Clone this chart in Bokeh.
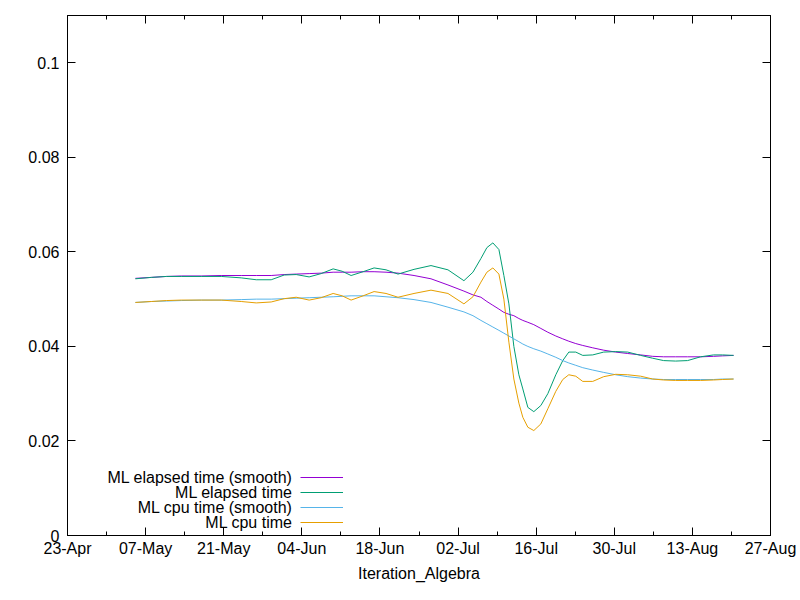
from bokeh.plotting import figure
from bokeh.models import (Range1d, FixedTicker, LinearAxis, Legend, LegendItem, Label)
from bokeh.embed import file_html
from bokeh.resources import INLINE

# ---- data (x = days after 23-Apr) ----
day_offset = [12.17, 15.03, 17.72, 20.40, 23.98, 27.56, 31.14, 33.83, 36.51, 38.84,
              40.99, 43.31, 45.46, 47.61, 49.22, 50.83, 52.98, 54.95, 57.09, 59.24,
              62.11, 65.15, 68.19, 71.05, 72.67, 74.10, 75.17, 76.24, 77.32, 78.21,
              79.11, 80.00, 80.90, 81.61, 82.51, 83.58, 84.84, 86.09, 87.52, 88.77,
              89.85, 91.10, 92.35, 94.14, 96.11, 98.26, 100.41, 102.73, 104.88, 106.85,
              109.00, 111.14, 113.47, 115.80, 117.41, 119.38]

elapsed_smooth = [0.0544, 0.0546, 0.0548, 0.0549, 0.0549, 0.0550, 0.0550, 0.0550, 0.0550, 0.0552,
                  0.0553, 0.0554, 0.0555, 0.0557, 0.0557, 0.0557, 0.0558, 0.0558, 0.0557, 0.0555,
                  0.0550, 0.0543, 0.0530, 0.0517, 0.0509, 0.0504, 0.0495, 0.0487, 0.0479, 0.0472,
                  0.0468, 0.0465, 0.0459, 0.0455, 0.0451, 0.0446, 0.0438, 0.0430, 0.0422, 0.0416,
                  0.0411, 0.0406, 0.0402, 0.0397, 0.0392, 0.0388, 0.0385, 0.0382, 0.0379, 0.0378,
                  0.0378, 0.0378, 0.0378, 0.0379, 0.0380, 0.0381]

elapsed = [0.0543, 0.0546, 0.0548, 0.0548, 0.0548, 0.0548, 0.0545, 0.0541, 0.0541, 0.0551,
           0.0552, 0.0547, 0.0554, 0.0564, 0.0559, 0.0550, 0.0558, 0.0566, 0.0562, 0.0553,
           0.0563, 0.0571, 0.0562, 0.0539, 0.0557, 0.0586, 0.0609, 0.0619, 0.0605, 0.0550,
           0.0490, 0.0400, 0.0340, 0.0310, 0.0271, 0.0262, 0.0275, 0.0300, 0.0340, 0.0370,
           0.0388, 0.0388, 0.0381, 0.0382, 0.0388, 0.0389, 0.0388, 0.0381, 0.0375, 0.0370,
           0.0369, 0.0370, 0.0378, 0.0382, 0.0382, 0.0381]

cpu_smooth = [0.0493, 0.0495, 0.0496, 0.0497, 0.0498, 0.0498, 0.0499, 0.0500, 0.0500, 0.0501,
              0.0502, 0.0503, 0.0504, 0.0505, 0.0506, 0.0507, 0.0507, 0.0507, 0.0505, 0.0503,
              0.0499, 0.0493, 0.0483, 0.0473, 0.0465, 0.0455, 0.0448, 0.0441, 0.0434, 0.0428,
              0.0422, 0.0416, 0.0410, 0.0405, 0.0400, 0.0395, 0.0390, 0.0384, 0.0377, 0.0370,
              0.0365, 0.0360, 0.0355, 0.0350, 0.0345, 0.0340, 0.0336, 0.0333, 0.0331, 0.0330,
              0.0330, 0.0330, 0.0330, 0.0330, 0.0331, 0.0331]

cpu = [0.0493, 0.0495, 0.0497, 0.0498, 0.0498, 0.0498, 0.0495, 0.0492, 0.0494, 0.0501,
       0.0504, 0.0498, 0.0503, 0.0512, 0.0507, 0.0498, 0.0507, 0.0516, 0.0512, 0.0504,
       0.0512, 0.0519, 0.0512, 0.0490, 0.0505, 0.0536, 0.0557, 0.0566, 0.0553, 0.0500,
       0.0409, 0.0331, 0.0280, 0.0250, 0.0229, 0.0222, 0.0236, 0.0268, 0.0305, 0.0330,
       0.0340, 0.0337, 0.0326, 0.0326, 0.0336, 0.0341, 0.0340, 0.0337, 0.0331, 0.0329,
       0.0328, 0.0328, 0.0328, 0.0329, 0.0330, 0.0331]

series_names = ["ML elapsed time (smooth)", "ML elapsed time",
                "ML cpu time (smooth)", "ML cpu time"]
series_colors = ["#9400d3", "#009e73", "#56b4e9", "#e69f00"]

x_ticks = [0, 14, 28, 42, 56, 70, 84, 98, 112, 126]
x_minor_ticks = [7, 21, 35, 49, 63, 77, 91, 105, 119]
x_tick_labels = ["23-Apr", "07-May", "21-May", "04-Jun", "18-Jun",
                 "02-Jul", "16-Jul", "30-Jul", "13-Aug", "27-Aug"]
y_ticks = [0, 0.02, 0.04, 0.06, 0.08, 0.1]
y_tick_labels = ["0", "0.02", "0.04", "0.06", "0.08", "0.1"]
x_title = "Iteration_Algebra"

FONT = "Liberation Sans"
FS = "16px"

p = figure(width=800, height=600, output_backend="svg", toolbar_location=None,
           x_range=Range1d(0, 126), y_range=Range1d(0, 0.11),
           x_axis_location=None, y_axis_location=None,
           min_border_left=67, min_border_right=30, min_border_top=15, min_border_bottom=65)
p.grid.visible = False
p.outline_line_color = "black"
p.outline_line_width = 1
p.background_fill_color = "white"
p.border_fill_color = "white"

xticker = FixedTicker(ticks=x_ticks, minor_ticks=x_minor_ticks)
yticker = FixedTicker(ticks=y_ticks, minor_ticks=[])


def style_axis(ax, show_labels, minor):
    ax.axis_line_color = "black"
    ax.major_tick_in = 8
    ax.major_tick_out = 0
    ax.major_tick_line_color = "black"
    if minor:
        ax.minor_tick_in = 4
        ax.minor_tick_out = 0
        ax.minor_tick_line_color = "black"
    else:
        ax.minor_tick_line_color = None
    ax.major_label_text_font = FONT
    ax.major_label_text_font_size = FS
    if show_labels:
        ax.major_label_text_color = "black"
    else:
        ax.major_label_text_color = None
        ax.major_label_standoff = 0


xb = LinearAxis(ticker=xticker)
style_axis(xb, True, True)
xb.major_label_overrides = {t: l for t, l in zip(x_ticks, x_tick_labels)}
xb.major_label_standoff = 4
xb.axis_label = x_title
xb.axis_label_text_font = FONT
xb.axis_label_text_font_size = FS
xb.axis_label_text_font_style = "normal"
xb.axis_label_text_color = "black"
xb.axis_label_standoff = 5
p.add_layout(xb, "below")

xt = LinearAxis(ticker=xticker)
style_axis(xt, False, True)
p.add_layout(xt, "above")

yl = LinearAxis(ticker=yticker)
style_axis(yl, True, False)
yl.major_label_overrides = {t: l for t, l in zip(y_ticks, y_tick_labels)}
yl.major_label_standoff = 8
p.add_layout(yl, "left")

yr = LinearAxis(ticker=yticker)
style_axis(yr, False, False)
p.add_layout(yr, "right")

renderers = []
for vals, col in zip([elapsed_smooth, elapsed, cpu_smooth, cpu], series_colors):
    r = p.line(day_offset, vals, line_color=col, line_width=1)
    renderers.append(r)

items = [LegendItem(label=n, renderers=[r]) for n, r in zip(series_names, renderers)]
legend = Legend(items=items, location=(233, 7), orientation="vertical",
                padding=0, margin=0, spacing=3, glyph_width=43, glyph_height=12,
                label_height=12, label_width=0, label_standoff=0,
                label_text_font_size="1px", label_text_color=None,
                border_line_alpha=0, background_fill_alpha=0)
p.add_layout(legend)

row_y = [58, 43, 28, 13]
for n, yy in zip(series_names, row_y):
    p.add_layout(Label(x=225, y=yy, x_units="screen", y_units="screen", text=n,
                       text_align="right", text_baseline="middle",
                       text_font=FONT, text_font_size=FS, text_color="black"))

open("out.html", "w").write(file_html(p, INLINE))
